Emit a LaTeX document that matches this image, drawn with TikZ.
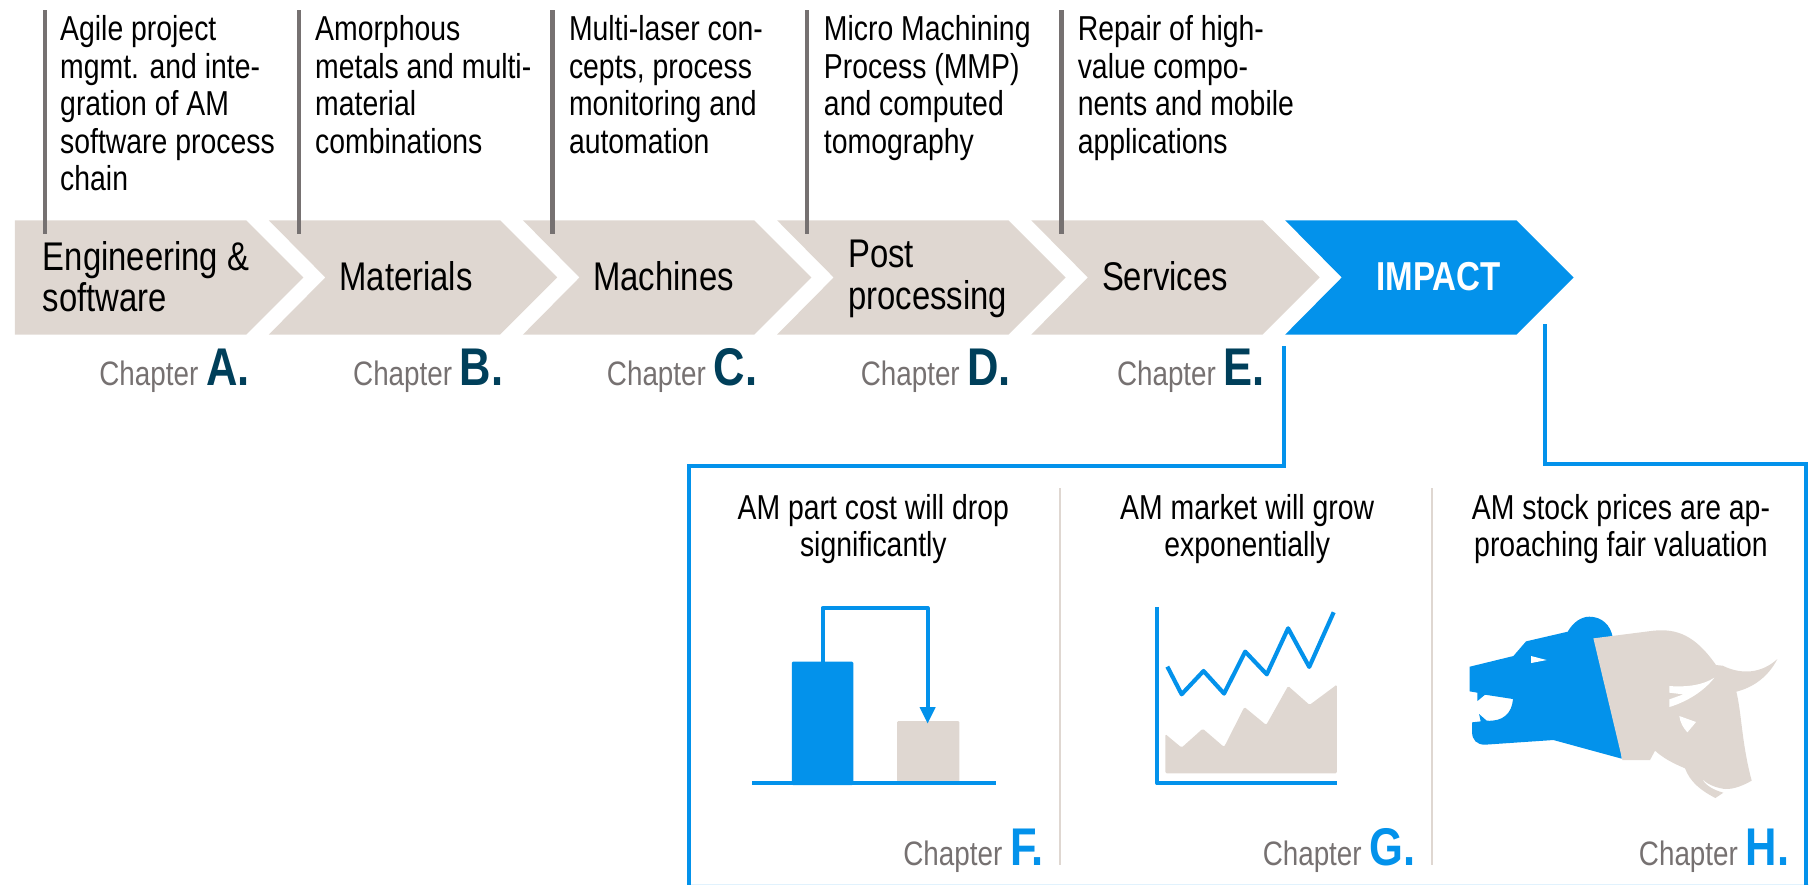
\documentclass[tikz,border=0pt]{standalone}
\usepackage{fontspec}
\setmainfont[FakeStretch=0.82]{Liberation Sans}
\definecolor{beige}{HTML}{DFD7D1}
\definecolor{amblue}{HTML}{0392EB}
\definecolor{chgray}{HTML}{767171}
\definecolor{chdark}{HTML}{003F5A}
\tikzset{
  toptext/.style={anchor=north west,inner sep=0pt,align=left,text=black,font=\fontsize{30}{32.5}\selectfont},
  chevtext/.style={anchor=west,inner sep=0pt,align=left,text=black,font=\fontsize{34.7}{36}\selectfont},
  headtext/.style={anchor=north,inner sep=0pt,align=center,text=black,font=\fontsize{30}{32}\selectfont},
  chaptext/.style={anchor=base east,inner sep=0pt,text=chgray,font=\fontsize{29.4}{32}\selectfont},
  pinline/.style={draw=chgray,line width=4pt},
  linkline/.style={draw=amblue,line width=3.4pt,line join=miter},
  divider/.style={draw=beige,line width=1.5pt},
  chartline/.style={draw=amblue,line width=3.6pt},
}
\newcommand{\chevshape}[2]{\fill[#2] (#1,191) -- ++(200.5,0) -- ++(49.5,49.5) -- ++(-49.5,49.5) -- ++(-200.5,0) -- ++(49,-49.5) -- cycle;}
\newcommand{\chapL}[1]{{\fontsize{46}{46}\selectfont\bfseries\textcolor{chdark}{#1}}}
\newcommand{\chapB}[1]{{\fontsize{46}{46}\selectfont\bfseries\textcolor{amblue}{#1}}}
\begin{document}
\begin{tikzpicture}[x=1pt,y=-1pt]
\useasboundingbox (0,0) rectangle (1568,767);
% chevrons
\fill[beige] (13,191) -- (213.5,191) -- (263,240.5) -- (213.5,290) -- (13,290) -- cycle;
\chevshape{233}{beige}
\chevshape{453.3}{beige}
\chevshape{673.6}{beige}
\chevshape{893.9}{beige}
\chevshape{1114}{amblue}
% pins
\foreach \n/\px in {a/39,b/259,c/479,d/699.5,e/920}{
  \coordinate (pt\n) at (\px,9);
  \coordinate (pb\n) at (\px,203);
  \draw[pinline] (pt\n) -- (pb\n);
}
% top texts
\node[toptext] (ta) at (52,13.5) {Agile project\\mgmt. and inte-\\gration of AM\\software process\\chain};
\node[toptext] (tb) at (273,13.5) {Amorphous\\metals and multi-\\material\\combinations};
\node[toptext] (tc) at (493,13.5) {Multi-laser con-\\cepts, process\\monitoring and\\automation};
\node[toptext] (td) at (714,13.5) {Micro Machining\\Process (MMP)\\and computed\\tomography};
\node[toptext] (te) at (934,13.5) {Repair of high-\\value compo-\\nents and mobile\\applications};
% chevron labels
\node[chevtext] (la) at (37,240) {Engineering \&\\software};
\node[chevtext] (lb) at (294,239) {Materials};
\node[chevtext] (lc) at (514,239) {Machines};
\node[chevtext] (ld) at (735,241.5) {Post\\processing};
\node[chevtext] (le) at (955,239) {Services};
\node[anchor=center,inner sep=0pt,text=white,font=\fontsize{35}{36}\selectfont\bfseries] (lf) at (1247,239.5) {IMPACT};
% chapters
\node[chaptext] (ca) at (216.5,334) {Chapter \chapL{A.}};
\node[chaptext] (cb) at (436.5,334) {Chapter \chapL{B.}};
\node[chaptext] (cc) at (656.5,334) {Chapter \chapL{C.}};
\node[chaptext] (cd) at (876.5,334) {Chapter \chapL{D.}};
\node[chaptext] (ce) at (1096.5,334) {Chapter \chapL{E.}};
\node[chaptext] (cf) at (905,750) {Chapter \chapB{F.}};
\node[chaptext] (cg) at (1227,750) {Chapter \chapB{G.}};
\node[chaptext] (ch) at (1551,750) {Chapter \chapB{H.}};
% frame
\coordinate (l1) at (1113,300);
\coordinate (l2) at (1113,404);
\coordinate (l3) at (597,404);
\coordinate (l4) at (597,767);
\coordinate (r1) at (1339,281);
\coordinate (r2) at (1339,402);
\coordinate (r3) at (1565.5,402);
\coordinate (r4) at (1565.5,767);
\coordinate (b1) at (597,766.4);
\coordinate (b2) at (1568,766.4);
\draw[draw=amblue!12,line width=1.2pt] (b1) -- (b2);
\draw[linkline] (l1) -- (l2) -- (l3) -- (l4);
\draw[linkline] (r1) -- (r2) -- (r3) -- (r4);
% dividers
\coordinate (d1a) at (919,423); \coordinate (d1b) at (919,750);
\coordinate (d2a) at (1241,423); \coordinate (d2b) at (1241,750);
\draw[divider] (d1a) -- (d1b);
\draw[divider] (d2a) -- (d2b);
% headings
\node[headtext] (h1) at (757,428) {AM part cost will drop\\significantly};
\node[headtext] (h2) at (1081,428) {AM market will grow\\exponentially};
\node[headtext] (h3) at (1405,428) {AM stock prices are ap-\\proaching fair valuation};
% chart F
\fill[amblue,rounded corners=1pt] (686.4,573.5) rectangle (739.6,680.5);
\fill[beige,rounded corners=1pt] (777.6,625) rectangle (831.6,678);
\draw[chartline] (652,679) -- (863,679);
\draw[chartline,line join=round] (713,574) -- (713,527) -- (804,527) -- (804,614);
\fill[amblue] (797,613) -- (811,613) -- (804,627) -- cycle;
% chart G
\fill[beige,rounded corners=1.2pt] (1010,670.3) -- (1010,636.2) -- (1024.2,648) -- (1042.5,631.6) -- (1061,647.5) -- (1078.6,612.8) -- (1097.5,628.4) -- (1116.5,594.6) -- (1135.1,611) -- (1158.8,593.4) -- (1158.8,670.3) -- cycle;
\draw[chartline,line join=round] (1003,526) -- (1003,679) -- (1159,679);
\draw[chartline,line join=round] (1011.8,577.8) -- (1024.2,601.8) -- (1043.2,581.6) -- (1061,601.2) -- (1079.3,564.8) -- (1098,584.5) -- (1116.5,544.6) -- (1134.8,578.1) -- (1156,530.7);
% bear and bull
\begin{scope}[shift={(1248.2,520.1)},x=0.2889pt,y=-0.2889pt]
\fill[amblue] (89,200) -- (220,168) -- (258,124) -- (383,95)
  .. controls (400,65) and (425,50) .. (448,50)
  .. controls (485,50) and (512,75) .. (518,112)
  -- (545,476) -- (340,420) -- (135,434)
  .. controls (110,434) and (96,420) .. (96,395)
  -- (96,367) -- (122,364) -- (117,342) -- (140,362)
  .. controls (190,365) and (215,340) .. (219,297)
  -- (135,284) -- (112,303) -- (112,278) -- (89,274) -- cycle;
\fill[white] (273,168) -- (320,180) -- (273,189) -- cycle;
\fill[beige] (460,115) -- (640,92)
  .. controls (710,85) and (765,105) .. (828,195)
  -- (848,197)
  .. controls (905,225) and (965,220) .. (1012,177)
  .. controls (985,230) and (940,262) .. (889,275)
  .. controls (905,340) and (905,430) .. (935,542)
  .. controls (900,562) and (870,570) .. (848,566)
  .. controls (825,562) and (800,552) .. (787,537)
  .. controls (795,555) and (820,570) .. (850,578)
  -- (826,594)
  .. controls (780,570) and (750,545) .. (735,505)
  .. controls (700,490) and (670,475) .. (645,452)
  -- (630,480) -- (547,480) -- cycle;
\fill[white] (688,258)
  .. controls (740,262) and (790,255) .. (823,233)
  .. controls (790,275) and (740,305) .. (688,321)
  -- (688,298) -- (730,283) -- (688,278) -- cycle;
\fill[white] (718,348) -- (768,366) -- (742,397) .. controls (728,382) and (720,365) .. (718,348) -- cycle;
\end{scope}
\end{tikzpicture}
\end{document}
